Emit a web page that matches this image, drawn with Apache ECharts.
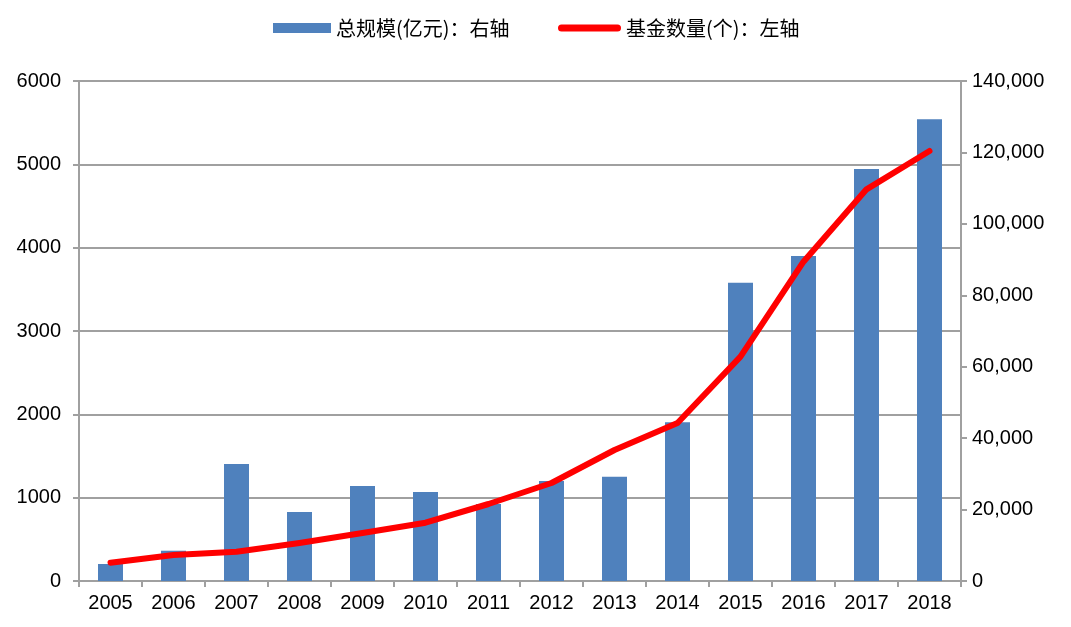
<!DOCTYPE html>
<html>
<head>
<meta charset="utf-8">
<script src="https://cdn.jsdelivr.net/npm/echarts@6/dist/echarts.min.js"></script>
<style>html,body{margin:0;padding:0;background:#fff;}#c{width:1071px;height:627px;}</style>
</head>
<body>
<div id="c"></div>
<script>
const categories = ['2005','2006','2007','2008','2009','2010','2011','2012','2013','2014','2015','2016','2017','2018'];
const scaleValues = [4760, 8480, 32760, 19320, 26600, 24920, 21560, 28000, 29200, 44430, 83530, 91000, 115360, 129280];
const countValues = [220, 312, 352, 456, 576, 700, 924, 1176, 1572, 1896, 2692, 3832, 4700, 5160];
const leftTicks = [0, 6000, 1000];
const rightTicks = [0, 140000, 20000];
const barName = '总规模(亿元)：右轴';
const lineName = '基金数量(个)：左轴';

const chart = echarts.init(document.getElementById('c'));
const font = 'Liberation Sans, Arial, sans-serif';
const legendText = { fontFamily: 'Noto Sans CJK SC', fontSize: 20, color: '#000' };
chart.setOption({
  animation: false,
  legend: [
    {
      left: 273, top: 18, padding: 0,
      itemWidth: 58, itemHeight: 10, itemGap: 7,
      icon: 'rect',
      textStyle: legendText,
      data: [barName]
    },
    {
      left: 558, top: 18, padding: 0,
      itemWidth: 63, itemHeight: 7, itemGap: 5,
      icon: 'path://M3.5,0 L59.5,0 A3.5,3.5 0 0 1 59.5,7 L3.5,7 A3.5,3.5 0 0 1 3.5,0 Z',
      textStyle: legendText,
      data: [lineName]
    }
  ],
  grid: { left: 79, right: 110, top: 81, bottom: 46 },
  xAxis: {
    type: 'category',
    data: categories,
    axisLine: { lineStyle: { color: '#a0a0a0', width: 2 } },
    axisTick: { show: true, length: 6, lineStyle: { color: '#a0a0a0', width: 2 } },
    axisLabel: { color: '#000', fontSize: 20, fontFamily: font, margin: 12 }
  },
  yAxis: [
    {
      type: 'value', min: leftTicks[0], max: leftTicks[1], interval: leftTicks[2],
      axisLine: { show: true, lineStyle: { color: '#a0a0a0', width: 2 } },
      axisTick: { show: true, length: 6, lineStyle: { color: '#a0a0a0', width: 2 } },
      splitLine: { lineStyle: { color: '#a0a0a0', width: 2 } },
      axisLabel: { color: '#000', fontSize: 20, fontFamily: font, margin: 18,
        formatter: v => String(v) }
    },
    {
      type: 'value', min: rightTicks[0], max: rightTicks[1], interval: rightTicks[2],
      position: 'right',
      axisLine: { show: true, lineStyle: { color: '#a0a0a0', width: 2 } },
      axisTick: { show: true, length: 6, lineStyle: { color: '#a0a0a0', width: 2 } },
      splitLine: { show: false },
      axisLabel: { color: '#000', fontSize: 20, fontFamily: font, margin: 11,
        formatter: v => v.toLocaleString('en-US') }
    }
  ],
  series: [
    {
      name: barName, type: 'bar', yAxisIndex: 1,
      data: scaleValues, barWidth: 25,
      itemStyle: { color: '#4f81bd' }
    },
    {
      name: lineName, type: 'line', yAxisIndex: 0,
      data: countValues, symbol: 'none', z: 5,
      lineStyle: { color: '#ff0000', width: 6, cap: 'round', join: 'round' },
      itemStyle: { color: '#ff0000' }
    }
  ]
});
</script>
</body>
</html>
